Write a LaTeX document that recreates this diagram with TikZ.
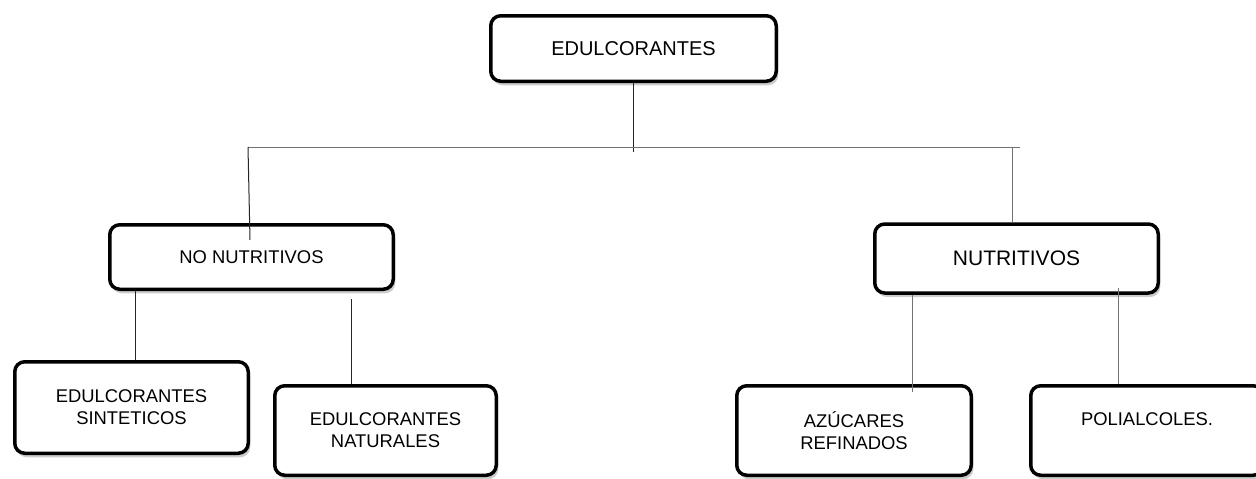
\documentclass[tikz,border=0pt]{standalone}
\usepackage{fontspec}
\setmainfont{Liberation Sans}
\usetikzlibrary{shadows}
\begin{document}
\begin{tikzpicture}[x=1pt,y=-1pt,
  box/.style={draw=black, line width=3.5pt, rounded corners=10pt, fill=white,
    inner sep=0pt, align=center, font=\fontsize{18.4}{22}\selectfont,
    drop shadow={shadow xshift=2pt, shadow yshift=-4pt, fill=black!22, opacity=0.9}},
  conn/.style={line width=1pt, draw=black!85},
  conng/.style={line width=1pt, draw=black!55}]
\useasboundingbox (0,0) rectangle (1256,479);
\fill[white] (0,0) rectangle (1256,479);
\clip (0,0) rectangle (1256,479);
% boxes
\node[box, minimum width=285.5pt, minimum height=65.5pt, font=\fontsize{20}{24}\selectfont] (top) at (633.5,48.5) {EDULCORANTES};
\node[box, minimum width=283.5pt, minimum height=64.5pt] (nonut) at (251.5,257) {NO NUTRITIVOS};
\node[box, minimum width=283.5pt, minimum height=69pt, font=\fontsize{21}{25}\selectfont] (nut) at (1016.5,258.5) {NUTRITIVOS};
\node[box, minimum width=233.5pt, minimum height=91.5pt] (sint) at (131.5,407.5) {EDULCORANTES\\SINTETICOS};
\node[box, minimum width=221.5pt, minimum height=89.5pt] (nat) at (385.5,430.5) {EDULCORANTES\\NATURALES};
\node[box, minimum width=234.5pt, minimum height=89.5pt] (azu) at (854,430.5) {AZÚCARES\\REFINADOS};
\node[box, minimum width=232.5pt, minimum height=89.5pt] (pol) at (1147,430.5) {POLIALCOLES.\\\phantom{X}};
% connector points
\coordinate (tB) at (633.5,152);
\coordinate (hL) at (248,147);
\coordinate (hR) at (1020,147);
\coordinate (lB) at (250,240);
\coordinate (rT) at (1012,147);
\coordinate (c1) at (135,0);
\coordinate (c2) at (351,299);
\coordinate (c3) at (912,392);
\coordinate (c4) at (1118,288);
% connectors
\draw[conn] (top.south) -- (tB);
\draw[conng] (hL) -- (hR);
\draw[conn] (hL) -- (lB);
\draw[conng] (rT) -- (rT |- nut.north);
\draw[conn] (nonut.south -| c1) -- (sint.north -| c1);
\draw[conn] (c2) -- (c2 |- nat.north);
\draw[conng] (nut.south -| c3) -- (c3);
\draw[conng] (c4) -- (c4 |- pol.north);
\end{tikzpicture}
\end{document}
